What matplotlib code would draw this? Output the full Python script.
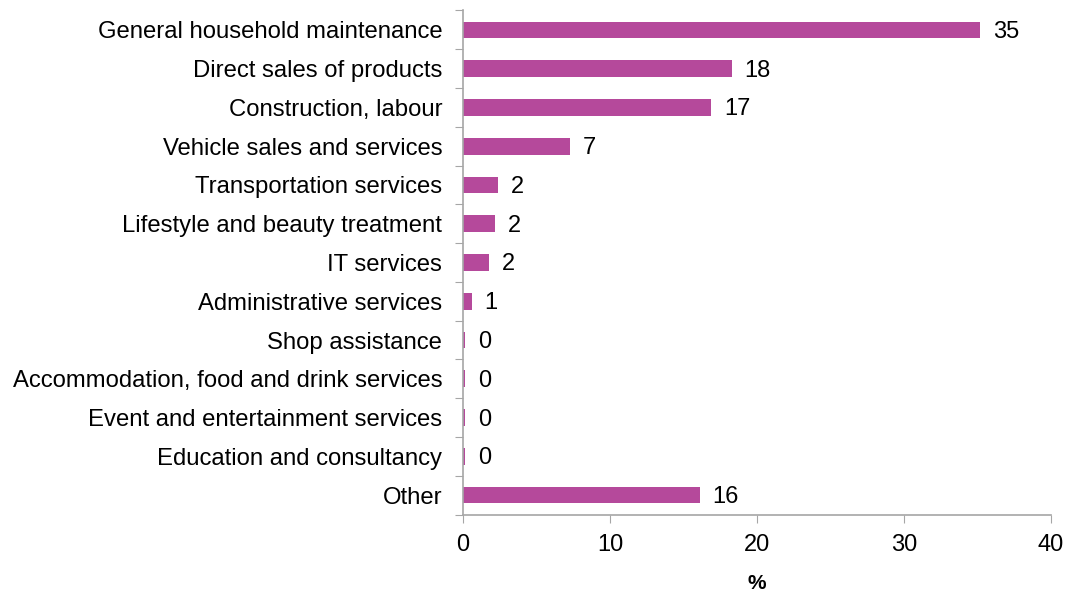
import matplotlib.pyplot as plt

plt.rcParams['font.family'] = ['Liberation Sans', 'DejaVu Sans']

categories = [
    'General household maintenance',
    'Direct sales of products',
    'Construction, labour',
    'Vehicle sales and services',
    'Transportation services',
    'Lifestyle and beauty treatment',
    'IT services',
    'Administrative services',
    'Shop assistance',
    'Accommodation, food and drink services',
    'Event and entertainment services',
    'Education and consultancy',
    'Other',
]
values = [35.2, 18.3, 16.9, 7.3, 2.4, 2.2, 1.8, 0.6, 0.15, 0.15, 0.15, 0.15, 16.1]

bar_color = '#B5499B'
axis_color = '#A6A6A6'

fig = plt.figure(figsize=(10.68, 5.96), dpi=100)
ax = fig.add_axes([463 / 1068, 1 - 514.5 / 596, 588 / 1068, 504 / 596])

pos = list(range(len(categories)))
ax.barh(pos, values, height=0.43, color=bar_color, linewidth=0)

for p, v in zip(pos, values):
    ax.text(v + 0.85, p + 0.05, f'{v:.0f}', va='center', ha='left', fontsize=17, color='black')

ax.set_ylim(len(categories) - 0.5, -0.5)
ax.set_xlim(0, 40)
ax.set_xticks([0, 10, 20, 30, 40])

# ticks between categories, labels centered on bars
ax.set_yticks([i + 0.5 for i in range(-1, len(categories))])
ax.set_yticklabels([])
ax.set_yticks(pos, minor=True)
ax.set_yticklabels(categories, minor=True, fontsize=17.2)
ax.tick_params(axis='y', which='major', length=6, color=axis_color, direction='out')
ax.tick_params(axis='y', which='minor', length=0, pad=15)
ax.tick_params(axis='x', length=6, color=axis_color, labelsize=17, pad=8)

for s in ['top', 'right']:
    ax.spines[s].set_visible(False)
for s in ['left', 'bottom']:
    ax.spines[s].set_color(axis_color)
    ax.spines[s].set_linewidth(1.2)

ax.set_xlabel('%', fontsize=15, fontweight='bold', labelpad=13)

fig.savefig('out.png', dpi=100)
